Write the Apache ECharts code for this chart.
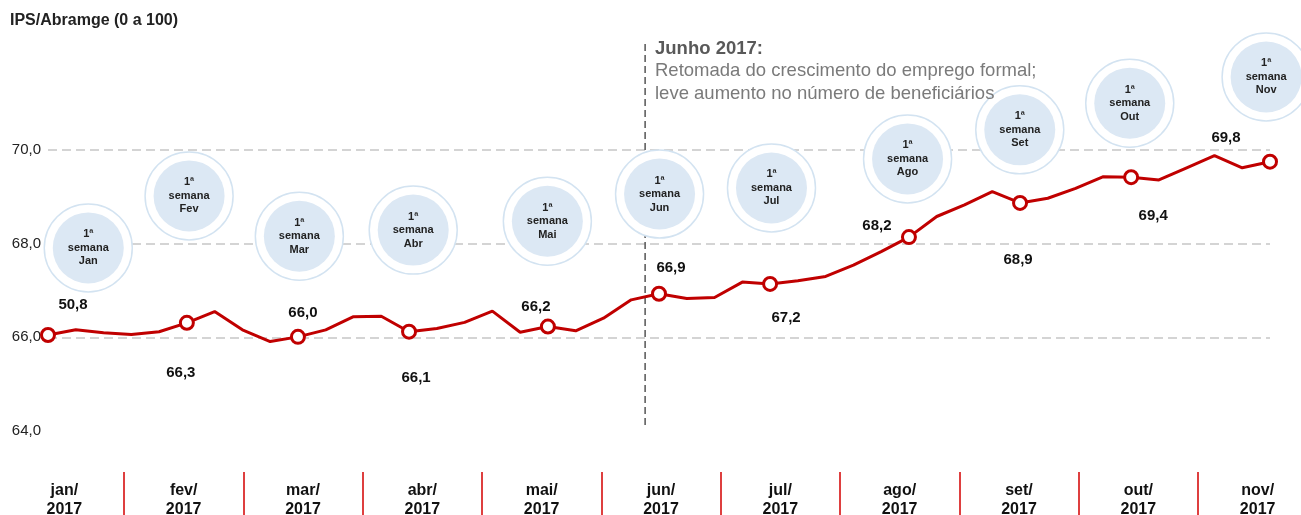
<!DOCTYPE html>
<html>
<head>
<meta charset="utf-8">
<title>IPS/Abramge 2017</title>
<script src="https://cdn.jsdelivr.net/npm/echarts@6/dist/echarts.min.js"></script>
<style>
    html, body { margin: 0; padding: 0; background: #fff; }
    #chart { width: 1301px; height: 515px; }
</style>
</head>
<body>
<div id="chart"></div>
<script>
// weekly IPS/Abramge index, 1st week of jan to 1st week of nov 2017
const weekValues = [
    66.05, 66.16, 66.10, 66.06, 66.12, 66.31, 66.55, 66.16, 65.91, 66.01,
    66.16, 66.44, 66.45, 66.12, 66.19, 66.32, 66.56, 66.11, 66.23, 66.14,
    66.41, 66.80, 66.93, 66.83, 66.85, 67.18, 67.14, 67.21, 67.30, 67.54,
    67.83, 68.14, 68.58, 68.83, 69.11, 68.87, 68.97, 69.18, 69.43, 69.42,
    69.36, 69.62, 69.88, 69.62, 69.75
];
// week index of the 1st week of each month
const monthWeeks = [0, 5, 9, 13, 18, 22, 26, 31, 35, 39, 44];
// labels printed at those weeks (as in the source, jan reads 50,8)
const monthValueLabels = ['50,8', '66,3', '66,0', '66,1', '66,2', '66,9', '67,2', '68,2', '68,9', '69,4', '69,8'];
const bubbleMonths = ['Jan', 'Fev', 'Mar', 'Abr', 'Mai', 'Jun', 'Jul', 'Ago', 'Set', 'Out', 'Nov'];
const axisMonths = ['jan', 'fev', 'mar', 'abr', 'mai', 'jun', 'jul', 'ago', 'set', 'out', 'nov'];
const yearLabel = '2017';
const yMin = 64, yMax = 70, yStep = 2;

// annotation layout (week, level) for the "1ª semana" bubbles
const bubbleWeek = [1.45, 5.08, 9.05, 13.15, 17.98, 22.02, 26.05, 30.95, 34.99, 38.95, 43.86];
const bubbleLevel = [67.91, 69.02, 68.16, 68.29, 68.48, 69.06, 69.19, 69.81, 70.43, 71.00, 71.56];
// label offsets (px) for the value labels
const labelOffsets = [[25, -30], [-6, 50], [5, -24], [7, 46], [-12, -20], [12, -26], [16, 34], [-32, -11], [-2, 57], [22, 39], [-44, -24]];
// june marker line
const juneWeek = 21.5, juneFrom = 64.13, juneTo = 72.35;

const RED = '#c00000';
const FONT = 'Liberation Sans, Arial, sans-serif';

let chart = echarts.init(document.getElementById('chart'));

let lineData = weekValues.map((v, i) => {
    let k = monthWeeks.indexOf(i);
    if (k < 0) return { value: [i, v] };
    return {
        value: [i, v],
        symbol: 'circle',
        symbolSize: 13,
        itemStyle: { color: '#fff', borderColor: RED, borderWidth: 3 },
        label: {
            show: true,
            position: 'inside',
            offset: labelOffsets[k],
            formatter: monthValueLabels[k],
            fontFamily: FONT,
            fontSize: 15,
            fontWeight: 'bold',
            color: '#111'
        }
    };
});

let bubbleData = bubbleMonths.map((m, i) => ({ value: [bubbleWeek[i], bubbleLevel[i]], name: m }));

const option = {
    animation: false,
    textStyle: { fontFamily: FONT },
    title: {
        text: 'IPS/Abramge (0 a 100)',
        left: 10,
        top: 13,
        padding: 0,
        textStyle: { fontFamily: FONT, fontSize: 16, fontWeight: 'bold', color: '#222' }
    },
    grid: [
        { left: 48, right: 31, top: 150, bottom: 84, outerBoundsMode: 'none' },
        { left: 4.67, right: -16.33, top: 440, bottom: 43, outerBoundsMode: 'none' }
    ],
    xAxis: [
        { type: 'value', gridIndex: 0, min: 0, max: weekValues.length - 1, show: false },
        {
            type: 'category',
            gridIndex: 1,
            data: axisMonths.map(m => m + '/\n' + yearLabel),
            boundaryGap: true,
            axisLine: { show: false },
            axisTick: {
                show: true,
                interval: (i) => i > 0,
                length: 43,
                lineStyle: { color: '#d40000', width: 1.5 }
            },
            axisLabel: {
                interval: 0,
                margin: 9,
                fontFamily: FONT,
                fontSize: 16,
                fontWeight: 'bold',
                lineHeight: 19,
                color: '#111'
            }
        }
    ],
    yAxis: [
        {
            type: 'value',
            gridIndex: 0,
            min: yMin,
            max: yMax,
            interval: yStep,
            axisLine: { show: false },
            axisTick: { show: false },
            axisLabel: {
                margin: 7,
                fontFamily: FONT,
                fontSize: 15,
                color: '#222',
                formatter: v => v.toFixed(1).replace('.', ',')
            },
            splitLine: {
                show: true,
                showMinLine: false,
                lineStyle: { color: '#d4d4d4', width: 2, type: [9, 5] }
            }
        },
        { type: 'value', gridIndex: 1, show: false }
    ],
    graphic: [
        {
            type: 'text',
            left: 655,
            top: 39,
            z: 100,
            style: {
                text: '{b|Junho 2017:}\n{r|Retomada do crescimento do emprego formal;}\n{r|leve aumento no número de beneficiários}',
                rich: {
                    b: { fontFamily: FONT, fontSize: 18.5, fontWeight: 'bold', fill: '#595959', lineHeight: 22.5 },
                    r: { fontFamily: FONT, fontSize: 18.5, fill: '#7a7a7a', lineHeight: 22.5 }
                }
            }
        }
    ],
    series: [
        {
            name: 'junho',
            type: 'line',
            silent: true,
            clip: false,
            symbol: 'none',
            data: [[juneWeek, juneFrom], [juneWeek, juneTo]],
            lineStyle: { color: '#555', width: 1.5, type: [7, 4] },
            z: 1
        },
        {
            name: 'ring',
            type: 'scatter',
            silent: true,
            clip: false,
            symbolSize: 88,
            data: bubbleData,
            itemStyle: { color: '#fff', borderColor: '#d3e3f1', borderWidth: 1.5, opacity: 1 },
            z: 2
        },
        {
            name: 'bubble',
            type: 'scatter',
            silent: true,
            clip: false,
            symbolSize: 71,
            data: bubbleData,
            itemStyle: { color: '#dce8f4', opacity: 1 },
            label: {
                show: true,
                position: 'inside',
                formatter: p => '1ª\nsemana\n' + p.name,
                fontFamily: FONT,
                fontSize: 11,
                fontWeight: 'bold',
                lineHeight: 13.5,
                color: '#222'
            },
            z: 3
        },
        {
            name: 'IPS',
            type: 'line',
            symbol: 'none',
            data: lineData,
            lineStyle: { color: RED, width: 3 },
            itemStyle: { color: RED },
            z: 4
        }
    ]
};
chart.setOption(option);
</script>
</body>
</html>
